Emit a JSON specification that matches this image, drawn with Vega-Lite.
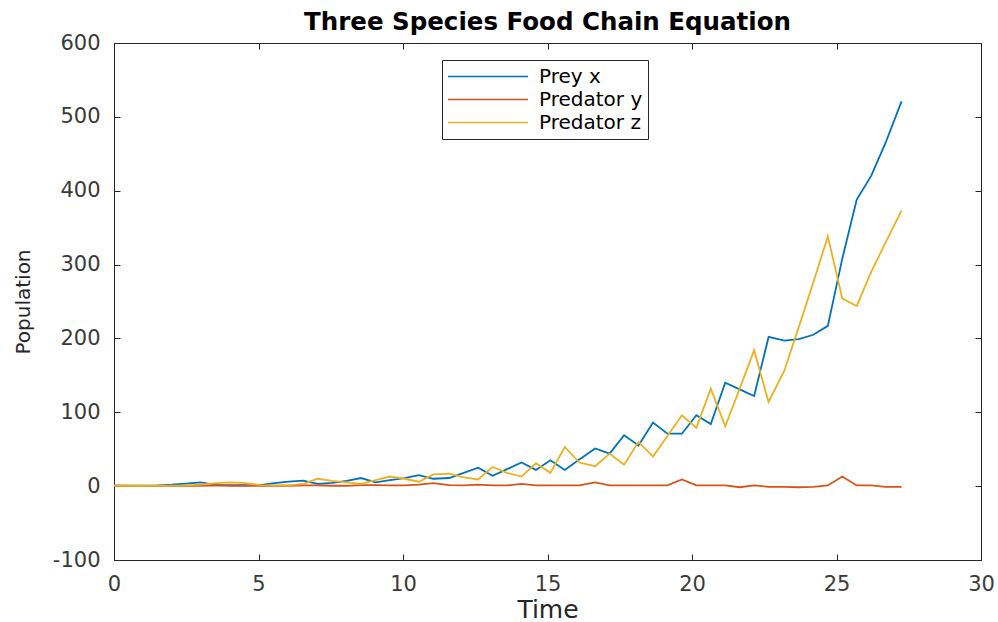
{
  "$schema": "https://vega.github.io/schema/vega-lite/v6.json",
  "autosize": "none",
  "width": 867,
  "height": 517,
  "padding": {"left": 114, "top": 43, "right": 17, "bottom": 62},
  "background": "white",
  "config": {
    "view": {"stroke": "#262626", "strokeWidth": 1},
    "font": "DejaVu Sans",
    "axis": {"grid": false, "domainColor": "#262626", "tickColor": "#262626", "labelColor": "#3a3a3a", "titleColor": "#262626", "labelFont": "DejaVu Sans", "titleFont": "DejaVu Sans", "titleFontWeight": "normal", "tickSize": -6, "tickWidth": 1}
  },
  "title": {"text": "Three Species Food Chain Equation", "fontSize": 24.5, "font": "DejaVu Sans", "fontWeight": "bold", "color": "#000000", "baseline": "alphabetic", "offset": 11, "dy": 33, "anchor": "middle"},
  "data": {"values": [
    {"t":0,"s":"Prey x","v":0.5},{"t":0.5,"s":"Prey x","v":0.5},{"t":1.0,"s":"Prey x","v":0.7},{"t":1.5,"s":"Prey x","v":1},{"t":2.0,"s":"Prey x","v":2},{"t":2.5,"s":"Prey x","v":3.5},{"t":3.0,"s":"Prey x","v":5},{"t":3.55,"s":"Prey x","v":1.5},{"t":4.05,"s":"Prey x","v":1.2},{"t":4.55,"s":"Prey x","v":1.2},{"t":5.05,"s":"Prey x","v":1.5},{"t":5.55,"s":"Prey x","v":4},{"t":6.05,"s":"Prey x","v":6},{"t":6.55,"s":"Prey x","v":7.5},{"t":7.05,"s":"Prey x","v":3},{"t":7.55,"s":"Prey x","v":4.5},{"t":8.05,"s":"Prey x","v":7},{"t":8.55,"s":"Prey x","v":11},{"t":9.05,"s":"Prey x","v":5},{"t":9.55,"s":"Prey x","v":8},{"t":10.05,"s":"Prey x","v":11},{"t":10.55,"s":"Prey x","v":15},{"t":11.05,"s":"Prey x","v":10},{"t":11.6,"s":"Prey x","v":11},{"t":12.1,"s":"Prey x","v":18},{"t":12.6,"s":"Prey x","v":25},{"t":13.1,"s":"Prey x","v":14},{"t":13.6,"s":"Prey x","v":23},{"t":14.1,"s":"Prey x","v":32},{"t":14.6,"s":"Prey x","v":22},{"t":15.1,"s":"Prey x","v":35},{"t":15.6,"s":"Prey x","v":22},{"t":16.1,"s":"Prey x","v":36},{"t":16.65,"s":"Prey x","v":51},{"t":17.15,"s":"Prey x","v":44},{"t":17.65,"s":"Prey x","v":69},{"t":18.15,"s":"Prey x","v":55},{"t":18.65,"s":"Prey x","v":86},{"t":19.15,"s":"Prey x","v":71},{"t":19.65,"s":"Prey x","v":71},{"t":20.15,"s":"Prey x","v":96},{"t":20.65,"s":"Prey x","v":84},{"t":21.15,"s":"Prey x","v":140},{"t":21.65,"s":"Prey x","v":131},{"t":22.15,"s":"Prey x","v":122},{"t":22.65,"s":"Prey x","v":202},{"t":23.2,"s":"Prey x","v":197},{"t":23.7,"s":"Prey x","v":199},{"t":24.2,"s":"Prey x","v":205},{"t":24.7,"s":"Prey x","v":217},{"t":25.2,"s":"Prey x","v":308},{"t":25.7,"s":"Prey x","v":388},{"t":26.2,"s":"Prey x","v":420},{"t":26.7,"s":"Prey x","v":465},{"t":27.25,"s":"Prey x","v":521},
    {"t":0,"s":"Predator y","v":0.5},{"t":0.5,"s":"Predator y","v":0.3},{"t":1.0,"s":"Predator y","v":0.3},{"t":1.5,"s":"Predator y","v":0.3},{"t":2.0,"s":"Predator y","v":0.3},{"t":2.5,"s":"Predator y","v":0.4},{"t":3.0,"s":"Predator y","v":0.5},{"t":3.55,"s":"Predator y","v":1},{"t":4.05,"s":"Predator y","v":0.5},{"t":4.55,"s":"Predator y","v":0.3},{"t":5.05,"s":"Predator y","v":0.3},{"t":5.55,"s":"Predator y","v":0.5},{"t":6.05,"s":"Predator y","v":0.5},{"t":6.55,"s":"Predator y","v":1},{"t":7.05,"s":"Predator y","v":1},{"t":7.55,"s":"Predator y","v":0.5},{"t":8.05,"s":"Predator y","v":0.5},{"t":8.55,"s":"Predator y","v":1.5},{"t":9.05,"s":"Predator y","v":1.5},{"t":9.55,"s":"Predator y","v":1},{"t":10.05,"s":"Predator y","v":1},{"t":10.55,"s":"Predator y","v":2},{"t":11.05,"s":"Predator y","v":4},{"t":11.6,"s":"Predator y","v":1.5},{"t":12.1,"s":"Predator y","v":1},{"t":12.6,"s":"Predator y","v":2},{"t":13.1,"s":"Predator y","v":1},{"t":13.6,"s":"Predator y","v":1},{"t":14.1,"s":"Predator y","v":3},{"t":14.6,"s":"Predator y","v":1},{"t":15.1,"s":"Predator y","v":1},{"t":15.6,"s":"Predator y","v":1},{"t":16.1,"s":"Predator y","v":1},{"t":16.65,"s":"Predator y","v":5},{"t":17.15,"s":"Predator y","v":1},{"t":17.65,"s":"Predator y","v":1},{"t":18.15,"s":"Predator y","v":1},{"t":18.65,"s":"Predator y","v":1},{"t":19.15,"s":"Predator y","v":1},{"t":19.65,"s":"Predator y","v":9},{"t":20.15,"s":"Predator y","v":1},{"t":20.65,"s":"Predator y","v":1},{"t":21.15,"s":"Predator y","v":1},{"t":21.65,"s":"Predator y","v":-1.5},{"t":22.15,"s":"Predator y","v":1},{"t":22.65,"s":"Predator y","v":-1},{"t":23.2,"s":"Predator y","v":-1},{"t":23.7,"s":"Predator y","v":-1.5},{"t":24.2,"s":"Predator y","v":-1},{"t":24.7,"s":"Predator y","v":1},{"t":25.2,"s":"Predator y","v":13},{"t":25.7,"s":"Predator y","v":1},{"t":26.2,"s":"Predator y","v":1},{"t":26.7,"s":"Predator y","v":-1},{"t":27.25,"s":"Predator y","v":-1},
    {"t":0,"s":"Predator z","v":0.5},{"t":0.5,"s":"Predator z","v":0.5},{"t":1.0,"s":"Predator z","v":0.5},{"t":1.5,"s":"Predator z","v":0.6},{"t":2.0,"s":"Predator z","v":0.8},{"t":2.5,"s":"Predator z","v":1},{"t":3.0,"s":"Predator z","v":2},{"t":3.55,"s":"Predator z","v":4},{"t":4.05,"s":"Predator z","v":5},{"t":4.55,"s":"Predator z","v":4},{"t":5.05,"s":"Predator z","v":1.5},{"t":5.55,"s":"Predator z","v":1},{"t":6.05,"s":"Predator z","v":1},{"t":6.55,"s":"Predator z","v":3},{"t":7.05,"s":"Predator z","v":10},{"t":7.55,"s":"Predator z","v":7},{"t":8.05,"s":"Predator z","v":5},{"t":8.55,"s":"Predator z","v":3},{"t":9.05,"s":"Predator z","v":8},{"t":9.55,"s":"Predator z","v":13},{"t":10.05,"s":"Predator z","v":10},{"t":10.55,"s":"Predator z","v":6},{"t":11.05,"s":"Predator z","v":16},{"t":11.6,"s":"Predator z","v":17},{"t":12.1,"s":"Predator z","v":12},{"t":12.6,"s":"Predator z","v":9},{"t":13.1,"s":"Predator z","v":26},{"t":13.6,"s":"Predator z","v":18},{"t":14.1,"s":"Predator z","v":13},{"t":14.6,"s":"Predator z","v":31},{"t":15.1,"s":"Predator z","v":18},{"t":15.6,"s":"Predator z","v":53},{"t":16.1,"s":"Predator z","v":32},{"t":16.65,"s":"Predator z","v":27},{"t":17.15,"s":"Predator z","v":44},{"t":17.65,"s":"Predator z","v":29},{"t":18.15,"s":"Predator z","v":60},{"t":18.65,"s":"Predator z","v":40},{"t":19.15,"s":"Predator z","v":68},{"t":19.65,"s":"Predator z","v":96},{"t":20.15,"s":"Predator z","v":79},{"t":20.65,"s":"Predator z","v":132},{"t":21.15,"s":"Predator z","v":81},{"t":21.65,"s":"Predator z","v":132},{"t":22.15,"s":"Predator z","v":184},{"t":22.65,"s":"Predator z","v":114},{"t":23.2,"s":"Predator z","v":157},{"t":23.7,"s":"Predator z","v":216},{"t":24.2,"s":"Predator z","v":276},{"t":24.7,"s":"Predator z","v":338},{"t":25.2,"s":"Predator z","v":254},{"t":25.7,"s":"Predator z","v":244},{"t":26.2,"s":"Predator z","v":290},{"t":26.7,"s":"Predator z","v":330},{"t":27.25,"s":"Predator z","v":373}
  ]},
  "layer": [
    {
      "mark": {"type": "line", "strokeWidth": 1.8, "clip": true},
      "encoding": {
        "x": {"field": "t", "type": "quantitative", "scale": {"domain": [0, 30], "nice": false, "zero": false},
          "axis": {"orient": "bottom", "values": [0,5,10,15,20,25,30], "title": "Time", "labelFontSize": 21, "labelBaseline": "alphabetic", "labelPadding": 36, "titleFontSize": 25, "titleBaseline": "alphabetic", "titleY": 57, "titleX": 433.5, "labelFlush": false}},
        "y": {"field": "v", "type": "quantitative", "scale": {"domain": [-100, 600], "nice": false, "zero": false},
          "axis": {"orient": "left", "values": [-100,0,100,200,300,400,500,600], "labelExpr": "replace(datum.label, '\u2212', '-')", "title": "Population", "labelFontSize": 21, "labelPadding": 20, "titleFontSize": 20, "titleX": -81, "titleY": 258.5, "titleBaseline": "bottom", "titleAngle": -90, "labelFlush": false}},
        "color": {"field": "s", "type": "nominal", "sort": null,
          "scale": {"domain": ["Prey x", "Predator y", "Predator z"], "range": ["#0072BD", "#D95319", "#EDB120"]},
          "legend": {"title": null, "orient": "none", "legendX": 328, "legendY": 17, "symbolType": "stroke", "symbolSize": 6400, "symbolStrokeWidth": 1.6, "symbolOffset": 0, "labelOffset": 10, "labelFontSize": 20, "labelFont": "DejaVu Sans", "labelColor": "#000000", "clipHeight": 23, "rowPadding": 0, "padding": 5, "strokeColor": "#262626", "fillColor": "#ffffff", "direction": "vertical"}}
      }
    },
    {
      "mark": {"type": "line", "opacity": 0, "strokeOpacity": 0},
      "encoding": {
        "x": {"field": "t", "type": "quantitative", "scale": {"domain": [0, 30], "nice": false, "zero": false},
          "axis": {"orient": "top", "values": [0,5,10,15,20,25,30], "labels": false, "title": null, "domain": false}},
        "y": {"field": "v", "type": "quantitative", "scale": {"domain": [-100, 600], "nice": false, "zero": false},
          "axis": {"orient": "right", "values": [-100,0,100,200,300,400,500,600], "labels": false, "title": null, "domain": false}},
        "detail": {"field": "s", "type": "nominal"}
      }
    }
  ],
  "resolve": {"axis": {"x": "independent", "y": "independent"}}
}
